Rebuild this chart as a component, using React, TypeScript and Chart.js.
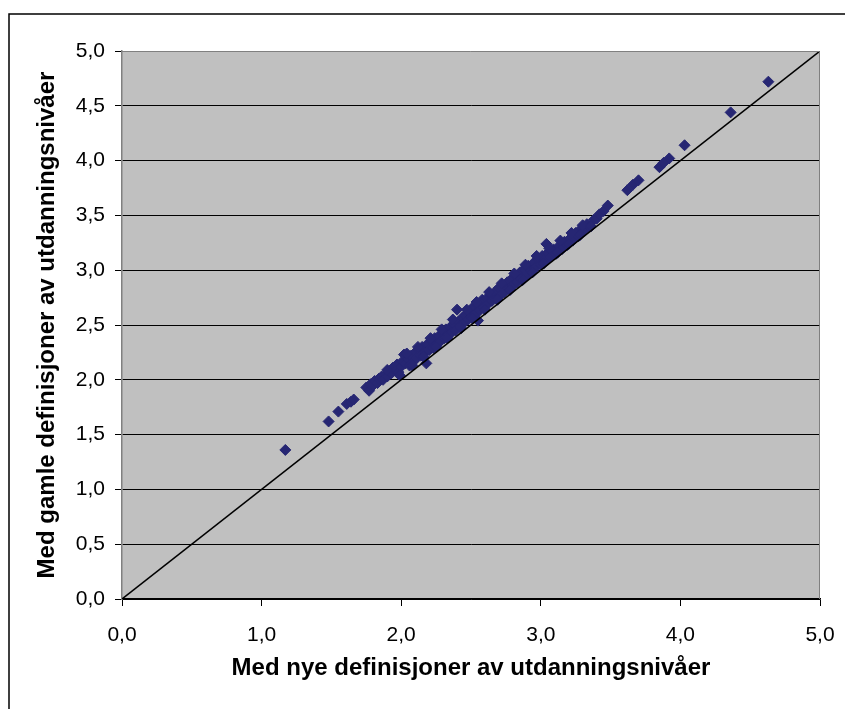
import React, { useEffect, useRef } from "react";
import { Chart, registerables } from "chart.js";
Chart.register(...registerables);

// Values (x = new definitions, y = old definitions)
const xNew = [
  1.17, 1.48, 1.55, 1.61, 1.64, 1.66,
  1.75, 1.77, 1.78, 1.80, 1.81, 1.83, 1.84, 1.86, 1.87, 1.89, 1.90, 1.92, 1.93, 1.94,
  1.96, 1.97, 1.98, 2.00, 2.01, 2.02, 2.03, 2.05, 2.06, 2.07, 2.09, 2.10, 2.11, 2.13,
  2.14, 2.15, 2.17, 2.18, 2.19, 2.20, 2.22, 2.23, 2.24, 2.26, 2.27, 2.28, 2.30, 2.31,
  2.32, 2.34, 2.35, 2.36, 2.38, 2.39, 2.40, 2.41, 2.42, 2.44, 2.45, 2.46, 2.48, 2.49,
  2.50, 2.52, 2.53, 2.55, 2.55, 2.56, 2.58, 2.59, 2.61, 2.62, 2.64, 2.65, 2.67, 2.68,
  2.70, 2.71, 2.73, 2.74, 2.76, 2.77, 2.79, 2.80, 2.82, 2.83, 2.85, 2.86, 2.88, 2.90,
  2.91, 2.93, 2.95, 2.96, 2.98, 3.00, 3.01, 3.03, 3.04, 3.05, 3.07, 3.09, 3.11, 3.13,
  3.15, 3.17, 3.19, 3.21, 3.23, 3.25, 3.27, 3.29, 3.31, 3.33, 3.35, 3.38, 3.40, 3.42,
  3.45, 3.48,
  1.90, 2.04, 2.12, 2.21, 2.29, 2.37, 2.47, 2.54, 2.63, 2.72, 2.81, 2.89, 2.97, 3.06,
  3.14, 3.22, 3.30,
  1.99, 2.08, 2.16, 2.25, 2.33, 2.43, 2.51, 2.60, 2.69, 2.78, 2.87, 2.94, 3.02, 3.12,
  3.20, 3.28, 3.36,
  3.62, 3.66, 3.70, 3.85, 3.88, 3.92, 4.03, 4.36, 4.63,
];
const yOld = [
  1.36, 1.62, 1.71, 1.78, 1.80, 1.82,
  1.93, 1.90, 1.96, 1.95, 1.99, 1.97, 2.01, 2.03, 2.00, 2.05, 2.03, 2.08, 2.06, 2.11,
  2.09, 2.14, 2.07, 2.12, 2.17, 2.23, 2.15, 2.19, 2.13, 2.22, 2.17, 2.25, 2.20, 2.27,
  2.22, 2.30, 2.25, 2.15, 2.33, 2.27, 2.35, 2.29, 2.38, 2.33, 2.40, 2.35, 2.43, 2.38,
  2.46, 2.41, 2.48, 2.43, 2.51, 2.45, 2.64, 2.53, 2.49, 2.57, 2.52, 2.59, 2.55, 2.62,
  2.57, 2.67, 2.60, 2.54, 2.68, 2.63, 2.73, 2.66, 2.74, 2.69, 2.78, 2.72, 2.80, 2.74,
  2.84, 2.77, 2.86, 2.80, 2.89, 2.83, 2.92, 2.86, 2.95, 2.89, 2.98, 2.92, 3.01, 2.95,
  3.04, 2.99, 3.07, 3.02, 3.10, 3.05, 3.13, 3.08, 3.24, 3.16, 3.12, 3.19, 3.15, 3.22,
  3.19, 3.26, 3.23, 3.29, 3.27, 3.34, 3.31, 3.38, 3.36, 3.42, 3.40, 3.46, 3.47, 3.51,
  3.54, 3.59,
  2.09, 2.24, 2.30, 2.38, 2.46, 2.55, 2.64, 2.71, 2.80, 2.88, 2.97, 3.05, 3.13, 3.20,
  3.27, 3.34, 3.41,
  2.04, 2.13, 2.21, 2.30, 2.38, 2.47, 2.56, 2.64, 2.73, 2.82, 2.91, 2.98, 3.06, 3.16,
  3.24, 3.32, 3.40,
  3.73, 3.78, 3.82, 3.94, 3.98, 4.02, 4.14, 4.44, 4.72,
];
const refLineX = [0, 5];
const refLineY = [0, 5];
const xTitle = "Med nye definisjoner av utdanningsnivåer";
const yTitle = "Med gamle definisjoner av utdanningsnivåer";

const fmt = (v: number) => v.toFixed(1).replace(".", ",");

const bgPlugin = {
  id: "bgPlugin",
  beforeDraw(chart: any) {
    const { ctx, chartArea } = chart;
    ctx.save();
    ctx.fillStyle = "#ffffff";
    ctx.fillRect(0, 0, chart.width, chart.height);
    ctx.fillStyle = "#C0C0C0";
    ctx.fillRect(chartArea.left, chartArea.top, chartArea.right - chartArea.left, chartArea.bottom - chartArea.top);
    ctx.restore();
  },
  afterDraw(chart: any) {
    const { ctx, chartArea } = chart;
    ctx.save();
    ctx.strokeStyle = "#808080";
    ctx.lineWidth = 1;
    ctx.beginPath();
    ctx.moveTo(chartArea.left, chartArea.top + 0.5);
    ctx.lineTo(chartArea.right - 0.5, chartArea.top + 0.5);
    ctx.lineTo(chartArea.right - 0.5, chartArea.bottom);
    ctx.stroke();
    ctx.strokeStyle = "#000000";
    ctx.lineWidth = 1.5;
    ctx.strokeRect(9, 14, 900, 800);
    ctx.restore();
  },
};

export default function App() {
  const ref = useRef<HTMLCanvasElement | null>(null);
  useEffect(() => {
    document.body.style.margin = "0";
    const scatterData = xNew.map((x, i) => ({ x, y: yOld[i] }));
    const lineData = refLineX.map((x, i) => ({ x, y: refLineY[i] }));
    const chart = new Chart(ref.current as HTMLCanvasElement, {
      type: "scatter",
      data: {
        datasets: [
          {
            type: "line",
            data: lineData,
            borderColor: "#000000",
            borderWidth: 1.5,
            pointRadius: 0,
            showLine: true,
            fill: false,
            order: 0,
          } as any,
          {
            data: scatterData,
            pointStyle: "rectRot",
            pointRadius: 5.5,
            backgroundColor: "#262673",
            borderColor: "#262673",
            borderWidth: 1,
            order: 1,
          },
        ],
      },
      options: {
        animation: false,
        responsive: false,
        devicePixelRatio: 1,
        layout: { padding: { top: 51, right: 25, left: 0, bottom: 0 } },
        plugins: { legend: { display: false }, tooltip: { enabled: false } },
        scales: {
          x: {
            type: "linear",
            min: 0,
            max: 5,
            ticks: {
              stepSize: 1,
              callback: (v: any) => fmt(Number(v)),
              color: "#000",
              font: { family: "Liberation Sans", size: 21 },
              padding: 17,
              maxRotation: 0,
            },
            grid: { drawOnChartArea: false, drawTicks: true, tickLength: 7, tickColor: "#000" },
            border: { color: "#000", width: 1.5 },
            title: {
              display: true,
              text: xTitle,
              color: "#000",
              font: { family: "Liberation Sans", size: 24, weight: "bold" },
              padding: { top: 0, bottom: 26 },
            },
            afterFit: (s: any) => {
              s.height = 110;
              s.paddingLeft = 0;
              s.paddingRight = 0;
            },
          },
          y: {
            type: "linear",
            min: 0,
            max: 5,
            ticks: {
              stepSize: 0.5,
              callback: (v: any) => fmt(Number(v)),
              color: "#000",
              font: { family: "Liberation Sans", size: 21 },
              padding: 10,
            },
            grid: {
              color: (c: any) => (c.tick && c.tick.value === 5 ? "rgba(0,0,0,0)" : "#000"),
              lineWidth: 1,
              drawTicks: true,
              tickLength: 7,
              tickColor: "#000",
            },
            border: { color: "#808080", width: 1.5 },
            title: {
              display: true,
              text: yTitle,
              color: "#000",
              font: { family: "Liberation Sans", size: 24, weight: "bold" },
              padding: { top: 33, bottom: 0 },
            },
            afterFit: (s: any) => {
              s.width = 122;
              s.paddingTop = 0;
              s.paddingBottom = 0;
            },
          },
        },
      },
      plugins: [bgPlugin],
    });
    return () => chart.destroy();
  }, []);
  return (
    <div style={{ width: 845, height: 709 }}>
      <canvas ref={ref} width={845} height={709} style={{ display: "block" }} />
    </div>
  );
}
